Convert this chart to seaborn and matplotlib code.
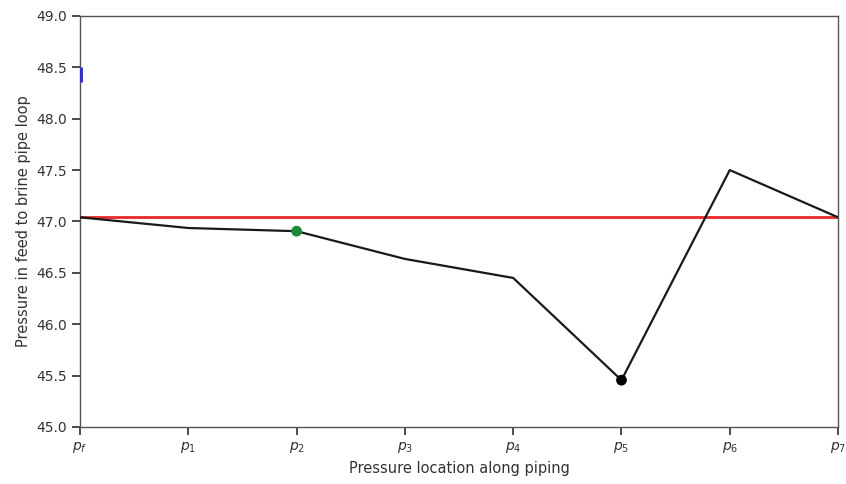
import matplotlib
matplotlib.use("Agg")
import matplotlib.pyplot as plt
import seaborn as sns
import pandas as pd

labels = ["$p_f$", "$p_1$", "$p_2$", "$p_3$", "$p_4$", "$p_5$", "$p_6$", "$p_7$"]
pressure = [47.04, 46.936, 46.905, 46.635, 46.45, 45.455, 47.50, 47.04]
reference_pressure = 47.04
green_idx = 2
black_idx = 5
blue_mark = [48.36, 48.5]

sns.set_theme(style="ticks")
plt.rcParams["font.family"] = ["DejaVu Sans"]

df = pd.DataFrame({"pos": list(range(len(labels))), "p": pressure})

fig = plt.figure(figsize=(8.46, 4.84), dpi=100)
ax = fig.add_axes([0.0946, 0.118, 0.896, 0.849])

ax.axhline(reference_pressure, color="#e8282a", lw=2, zorder=2)
sns.lineplot(data=df, x="pos", y="p", color="#1a1a1a", lw=1.6, ax=ax, zorder=3)
sns.scatterplot(x=[df.pos[green_idx]], y=[df.p[green_idx]], color="#1a8a3a", s=60,
                edgecolor="none", ax=ax, zorder=4)
sns.scatterplot(x=[df.pos[black_idx]], y=[df.p[black_idx]], color="black", s=60,
                edgecolor="none", ax=ax, zorder=4)
ax.plot([0, 0], blue_mark, color="#3030c0", lw=3.5, solid_capstyle="butt", zorder=5)

ax.set_xlim(0, len(labels) - 1)
ax.set_ylim(45.0, 49.0)
ax.set_xticks(range(len(labels)))
ax.set_xticklabels(labels)
ax.set_yticks([45.0, 45.5, 46.0, 46.5, 47.0, 47.5, 48.0, 48.5, 49.0])
ax.set_yticklabels(["45.0", "45.5", "46.0", "46.5", "47.0", "47.5", "48.0", "48.5", "49.0"])
ax.tick_params(labelsize=10, colors="#333333")
for s in ax.spines.values():
    s.set_color("#555555")
    s.set_linewidth(1.0)
ax.set_xlabel("Pressure location along piping", fontsize=10.5, color="#333333")
ax.set_ylabel("Pressure in feed to brine pipe loop", fontsize=10.5, color="#333333")

fig.savefig("out.png", dpi=100)
